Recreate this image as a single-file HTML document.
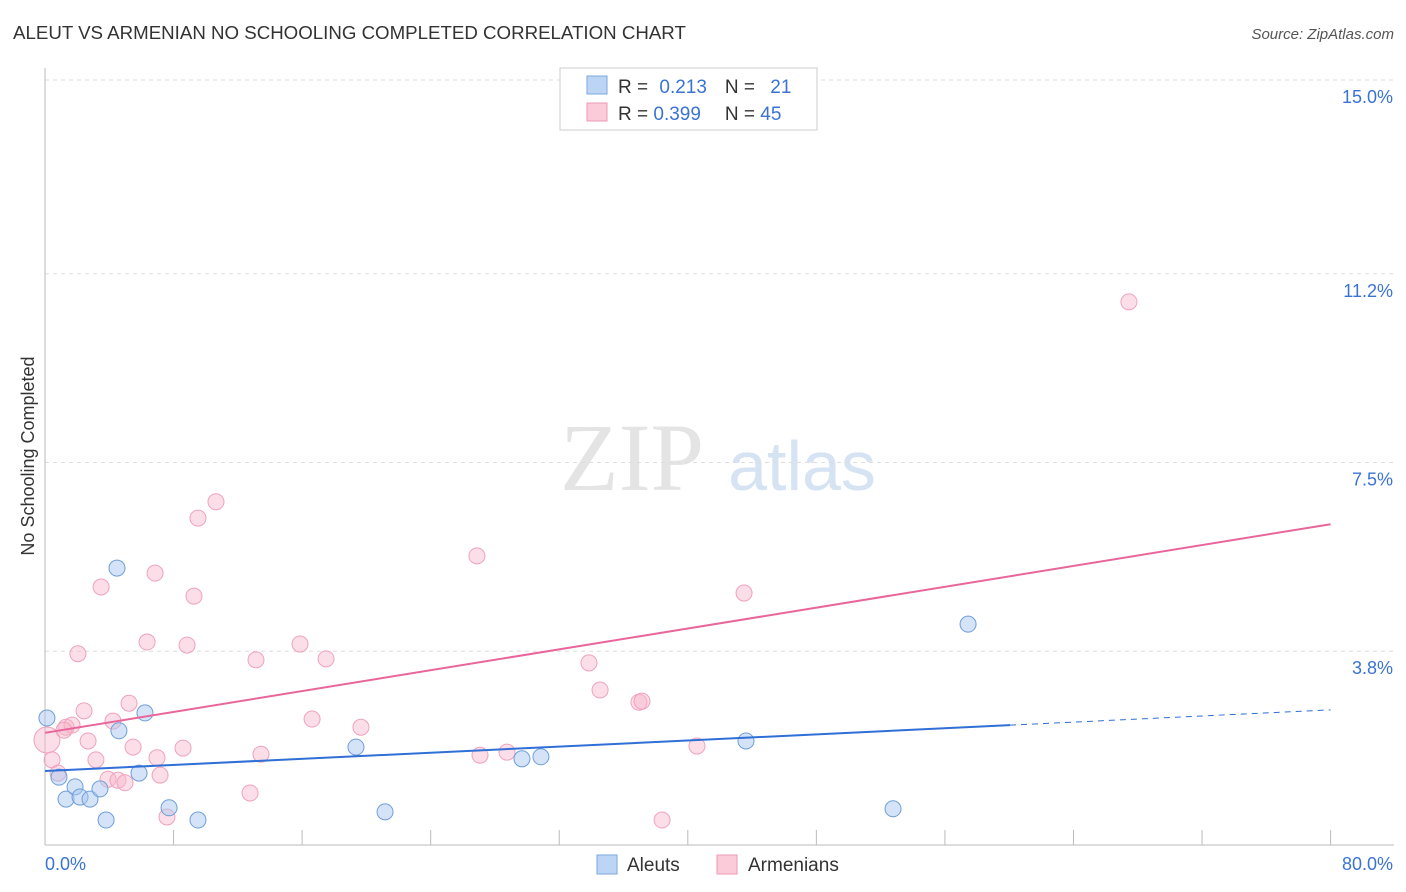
<!DOCTYPE html>
<html><head><meta charset="utf-8"><style>
body{margin:0;background:#fff;font-family:"Liberation Sans",sans-serif;}
#wrap{position:relative;width:1406px;height:892px;overflow:hidden}
</style></head><body>
<div id="wrap">
<svg id="svg" width="1406" height="892" xmlns="http://www.w3.org/2000/svg">
<text x="13" y="39" font-size="18.7" fill="#333">ALEUT VS ARMENIAN NO SCHOOLING COMPLETED CORRELATION CHART</text>
<text x="1394" y="39" font-size="15" fill="#555" font-style="italic" text-anchor="end">Source: ZipAtlas.com</text>
<text x="632" y="490" font-size="96" fill="#e4e4e4" font-family="Liberation Serif,serif" text-anchor="middle">ZIP</text>
<text x="802" y="490" font-size="70" fill="#d6e3f3" text-anchor="middle">atlas</text>
<text transform="translate(34,456) rotate(-90)" font-size="18" fill="#333" text-anchor="middle">No Schooling Completed</text>
<g id="grid"></g><g id="marks"></g>
<g>
<rect x="560" y="68" width="257" height="62" fill="#fff" stroke="#ccc"/>
<rect x="587" y="76" width="20" height="18" fill="#bcd5f5" stroke="#7aa7e0"/>
<rect x="587" y="103" width="20" height="18" fill="#fbcbd9" stroke="#ee9ab4"/>
<text x="618" y="93" font-size="19" fill="#333">R = <tspan fill="#3a73d4" dx="6">0.213</tspan><tspan fill="#333" dx="18">N = </tspan><tspan fill="#3a73d4" dx="10">21</tspan></text>
<text x="618" y="120" font-size="19" fill="#333">R = <tspan fill="#3a73d4">0.399</tspan><tspan fill="#333" dx="24">N = </tspan><tspan fill="#3a73d4">45</tspan></text>
</g>
<g>
<rect x="597" y="855" width="20" height="19" fill="#bcd5f5" stroke="#7aa7e0"/>
<text x="627" y="871" font-size="19" fill="#333">Aleuts</text>
<rect x="717" y="855" width="20" height="19" fill="#fbcbd9" stroke="#ee9ab4"/>
<text x="748" y="871" font-size="19" fill="#333">Armenians</text>
</g>
</svg></div>
<script>
const yTicks=[15.0,11.2,7.5,3.8];
const yTickLabels=["15.0%","11.2%","7.5%","3.8%"];
const xTicks=[0,8,16,24,32,40,48,56,64,72,80];
const aleutX=[0.12,0.87,1.31,1.87,2.18,2.8,3.42,3.8,4.48,4.6,5.85,6.22,7.72,9.52,19.35,21.16,29.68,30.86,43.62,52.77,57.44];
const aleutY=[2.49,1.33,0.9,1.14,0.94,0.9,1.1,0.49,5.43,2.24,1.41,2.59,0.73,0.49,1.92,0.65,1.69,1.73,2.04,0.71,4.33];
const armX=[0.12,0.44,0.81,1.31,1.68,2.05,2.43,2.68,3.17,3.49,3.92,4.23,4.54,4.98,5.23,5.48,6.35,6.85,6.97,7.16,7.59,8.59,8.84,9.27,9.52,10.64,12.76,13.13,13.44,15.87,16.62,17.49,19.66,26.88,27.07,28.75,33.85,34.54,36.96,37.15,38.4,40.57,43.5,67.45,1.18];
const armY=[2.06,1.67,1.41,2.31,2.35,3.75,2.63,2.04,1.67,5.06,1.29,2.43,1.27,1.22,2.78,1.92,3.98,5.33,1.71,1.37,0.55,1.9,3.92,4.88,6.41,6.73,1.02,3.63,1.78,3.94,2.47,3.65,2.31,5.67,1.76,1.82,3.57,3.04,2.8,2.82,0.49,1.94,4.94,10.65,2.25];
const aleutTrend=[[0,1.45],[60.05,2.35],[80,2.65]];
const armTrend=[[0,2.2],[80,6.29]];
const X=v=>45+v*16.07, Y=v=>845-v*51;
const NS="http://www.w3.org/2000/svg";
function mk(tag,attrs,parent){const e=document.createElementNS(NS,tag);for(const k in attrs)e.setAttribute(k,attrs[k]);parent.appendChild(e);return e;}
const g=document.getElementById('grid'),m=document.getElementById('marks');
yTicks.forEach((t,i)=>{
 const l=mk('line',{x1:45,x2:1394,y1:Y(t),y2:Y(t),stroke:'#ddd','stroke-dasharray':'4,4'},g);
 
 
 const tx=mk('text',{x:1393,y:Y(t)+23,'font-size':18,fill:'#3a73d4','text-anchor':'end'},g);
 tx.textContent=yTickLabels[i];
 
 
});
const ax=mk('line',{x1:45,x2:45,y1:68,y2:845,stroke:'#bbb'},g);


const bx=mk('line',{x1:45,x2:1394,y1:845,y2:845,stroke:'#bbb'},g);


xTicks.forEach(t=>{
 const l=mk('line',{x1:X(t),x2:X(t),y1:830,y2:845,stroke:'#bbb'},g);
 
 
});
const x0=mk('text',{x:45,y:870,'font-size':18,fill:'#3a73d4'},g);x0.textContent='0.0%';


const x1=mk('text',{x:1393,y:870,'font-size':18,fill:'#3a73d4','text-anchor':'end'},g);x1.textContent='80.0%';


armX.forEach((v,i)=>{
 const c=mk('circle',{cx:X(v),cy:Y(armY[i]),r:i===0?13:8,fill:'rgba(248,182,203,0.45)',stroke:'#efa3bb','stroke-width':1},m);
 
 
});
aleutX.forEach((v,i)=>{
 const c=mk('circle',{cx:X(v),cy:Y(aleutY[i]),r:8,fill:'rgba(170,200,240,0.5)',stroke:'#6f9fd8','stroke-width':1},m);
 
 
});
const t1=mk('line',{x1:X(aleutTrend[0][0]),y1:Y(aleutTrend[0][1]),x2:X(aleutTrend[1][0]),y2:Y(aleutTrend[1][1]),stroke:'#2f6fd6','stroke-width':2},m);


const t2=mk('line',{x1:X(aleutTrend[1][0]),y1:Y(aleutTrend[1][1]),x2:X(aleutTrend[2][0]),y2:Y(aleutTrend[2][1]),stroke:'#2f6fd6','stroke-width':1,'stroke-dasharray':'6,5'},m);


const t3=mk('line',{x1:X(armTrend[0][0]),y1:Y(armTrend[0][1]),x2:X(armTrend[1][0]),y2:Y(armTrend[1][1]),stroke:'#e8669a','stroke-width':2},m);


</script>
</body></html>
